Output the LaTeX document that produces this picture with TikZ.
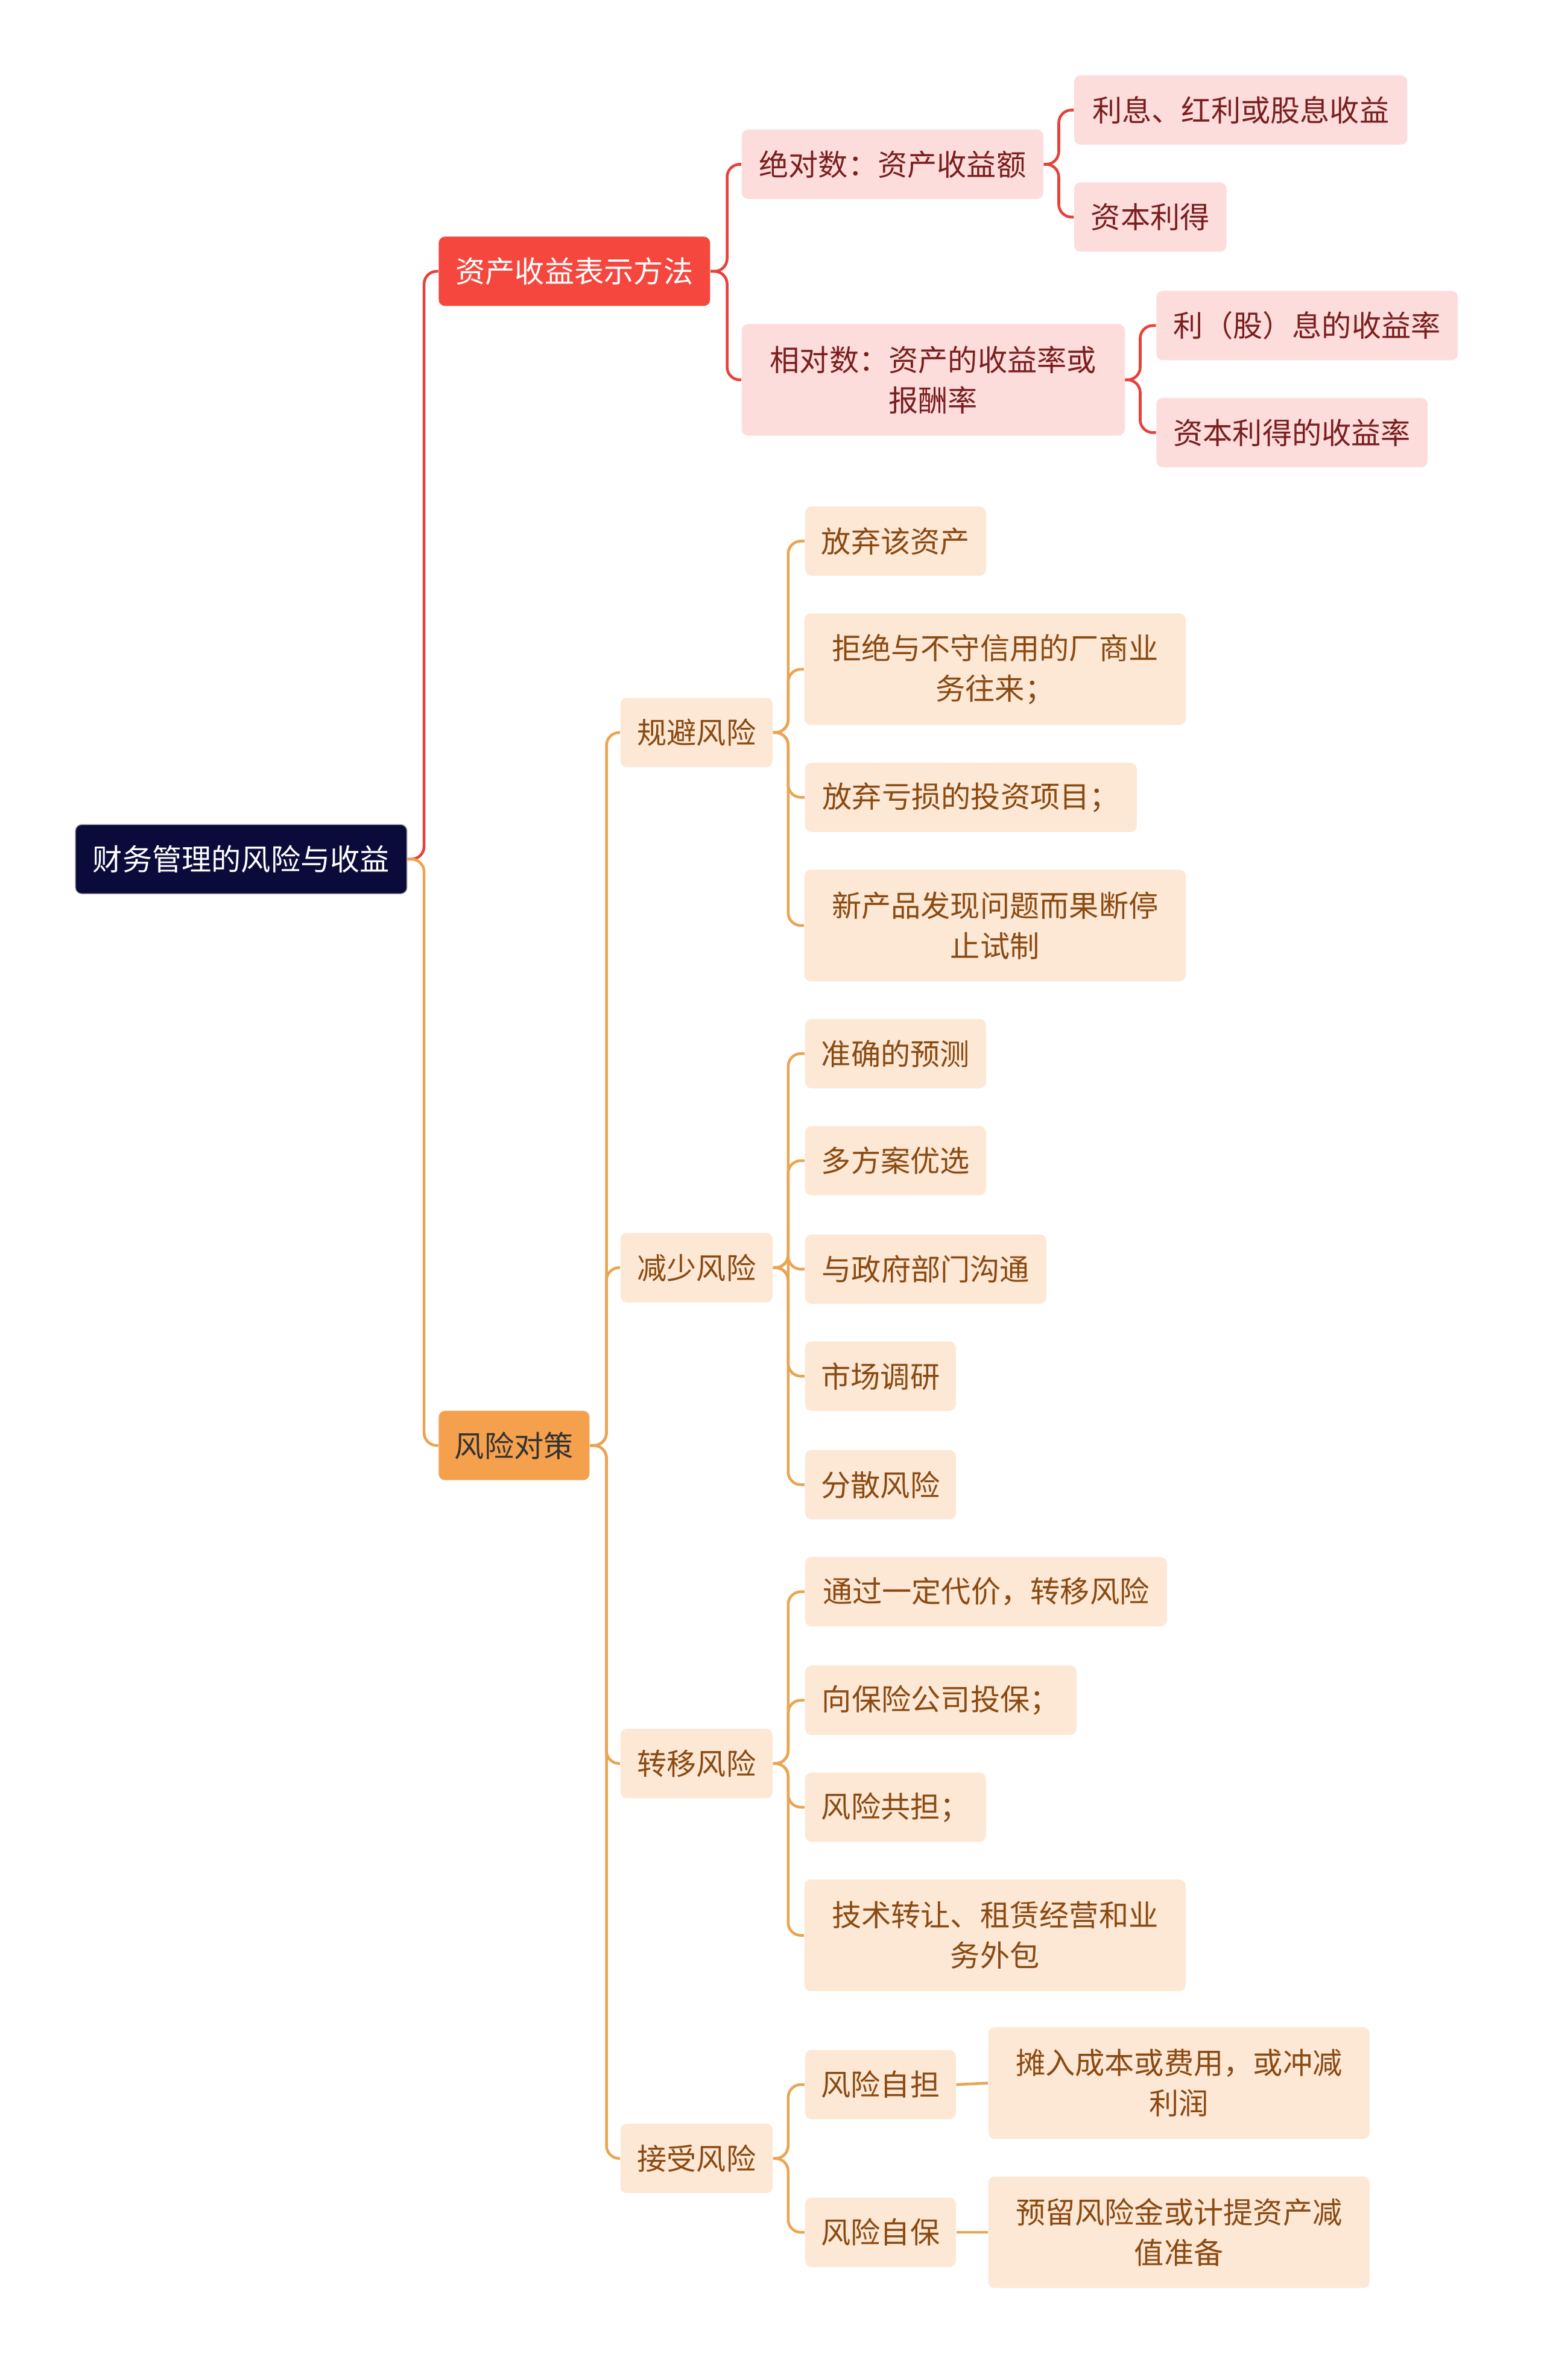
\documentclass[tikz,border=0pt]{standalone}
\usepackage{fontspec}
\setmainfont{Noto Sans CJK SC}
\usetikzlibrary{calc}
\definecolor{navy}{HTML}{0B0B3B}
\definecolor{redA}{HTML}{F5473E}
\definecolor{pinkL}{HTML}{FDDCDC}
\definecolor{redT}{HTML}{7A1E1E}
\definecolor{orB}{HTML}{F5A04C}
\definecolor{peach}{HTML}{FDE8D6}
\definecolor{brownT}{HTML}{8A4A12}
\definecolor{redLine}{HTML}{E8403A}
\definecolor{orLine}{HTML}{EBA452}
\tikzset{
 box/.style={rounded corners=3pt, minimum height=1.15cm, align=center, font=\fontsize{14pt}{19pt}\selectfont, inner xsep=0.25cm},
 rootbox/.style={box, fill=navy, draw=gray!60, text=white},
 redbox/.style={box, fill=redA, text=white},
 pinkbox/.style={box, fill=pinkL, text=redT},
 orbox/.style={box, fill=orB, text=black!80},
 peachbox/.style={box, fill=peach, text=brownT},
 rl/.style={draw=redLine, line width=1.3pt, rounded corners=6pt},
 ol/.style={draw=orLine, line width=1.3pt, rounded corners=6pt},
 W/.style={minimum width=#1*0.025cm}
}
\begin{document}
\begin{tikzpicture}[x=0.025cm,y=-0.025cm]
\useasboundingbox (0,0) rectangle (1024,1579);
\node[rootbox,W=220] (root) at (160,570) {财务管理的风险与收益};
\node[redbox,W=180] (A) at (381,180) {资产收益表示方法};
\node[pinkbox,W=200] (A1) at (592,109) {绝对数：资产收益额};
\node[pinkbox,W=221] (A11) at (823,73) {利息、红利或股息收益};
\node[pinkbox,W=101] (A12) at (763,144) {资本利得};
\node[pinkbox,W=254,minimum height=1.85cm] (A2) at (619,252) {相对数：资产的收益率或\\报酬率};
\node[pinkbox,W=200] (A21) at (867,216) {利（股）息的收益率};
\node[pinkbox,W=180] (A22) at (857,287) {资本利得的收益率};
\node[orbox,W=100] (B) at (341,959) {风险对策};
\node[peachbox,W=101] (B1) at (462,486) {规避风险};
\node[peachbox,W=120] (B11) at (594,359) {放弃该资产};
\node[peachbox,W=253,minimum height=1.85cm] (B12) at (660,444) {拒绝与不守信用的厂商业\\务往来；};
\node[peachbox,W=220] (B13) at (644,529) {放弃亏损的投资项目；};
\node[peachbox,W=253,minimum height=1.85cm] (B14) at (660,614) {新产品发现问题而果断停\\止试制};
\node[peachbox,W=101] (B2) at (462,841) {减少风险};
\node[peachbox,W=120] (B21) at (594,699) {准确的预测};
\node[peachbox,W=120] (B22) at (594,770) {多方案优选};
\node[peachbox,W=160] (B23) at (614,842) {与政府部门沟通};
\node[peachbox,W=100] (B24) at (584,913) {市场调研};
\node[peachbox,W=100] (B25) at (584,985) {分散风险};
\node[peachbox,W=101] (B3) at (462,1170) {转移风险};
\node[peachbox,W=240] (B31) at (654,1056) {通过一定代价，转移风险};
\node[peachbox,W=180] (B32) at (624,1128) {向保险公司投保；};
\node[peachbox,W=120] (B33) at (594,1199) {风险共担；};
\node[peachbox,W=253,minimum height=1.85cm] (B34) at (660,1284) {技术转让、租赁经营和业\\务外包};
\node[peachbox,W=101] (B4) at (462,1432) {接受风险};
\node[peachbox,W=100] (B41) at (584,1383) {风险自担};
\node[peachbox,W=100] (B42) at (584,1481) {风险自保};
\node[peachbox,W=253,minimum height=1.85cm] (B411) at (782,1382) {摊入成本或费用，或冲减\\利润};
\node[peachbox,W=253,minimum height=1.85cm] (B421) at (782,1481) {预留风险金或计提资产减\\值准备};
% connectors
\draw[rl] (root.east) -- ++(11,0) |- (A.west);
\draw[ol] (root.east) -- ++(11,0) |- (B.west);
\foreach \c in {A1,A2} \draw[rl] (A.east) -- ++(11,0) |- (\c.west);
\foreach \c in {A11,A12} \draw[rl] (A1.east) -- ++(10,0) |- (\c.west);
\foreach \c in {A21,A22} \draw[rl] (A2.east) -- ++(10,0) |- (\c.west);
\foreach \c in {B1,B2,B3,B4} \draw[ol] (B.east) -- ++(11,0) |- (\c.west);
\foreach \c in {B11,B12,B13,B14} \draw[ol] (B1.east) -- ++(10,0) |- (\c.west);
\foreach \c in {B21,B22,B23,B24,B25} \draw[ol] (B2.east) -- ++(10,0) |- (\c.west);
\foreach \c in {B31,B32,B33,B34} \draw[ol] (B3.east) -- ++(10,0) |- (\c.west);
\foreach \c in {B41,B42} \draw[ol] (B4.east) -- ++(10,0) |- (\c.west);
\draw[ol] (B41.east) -- (B411.west);
\draw[ol] (B42.east) -- (B421.west);
\end{tikzpicture}
\end{document}
